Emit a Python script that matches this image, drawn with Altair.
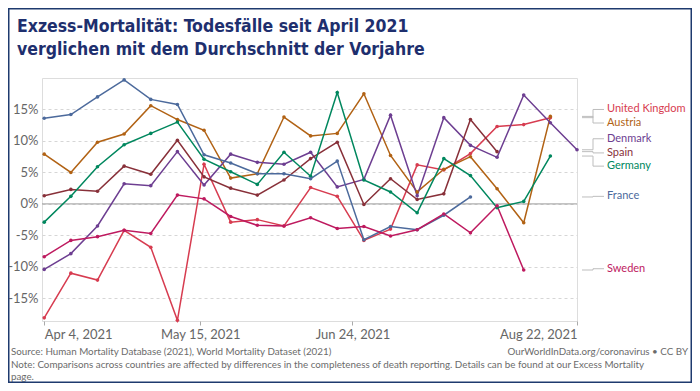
import altair as alt
import pandas as pd

# ---------------- data ----------------
countries = ["United Kingdom", "Austria", "Denmark", "Spain", "Germany", "France", "Sweden"]
colors = ["#d73c50", "#b16214", "#6d3e91", "#883039", "#00875e", "#4c6a9c", "#be1a5f"]

first_week = "2021-04-04"  # weekly series, one point per week

uk = [-18.1, -11.0, -12.1, -4.2, -6.9, -18.5, 6.3, -2.9, -2.5, -3.5, 2.6, 1.2, -5.8, -4.0, 6.2, 5.4, 8.0, 12.3, 12.6, 13.7]
austria = [7.9, 5.0, 9.8, 11.1, 15.6, 13.4, 11.7, 4.1, 4.8, 13.8, 10.8, 11.2, 17.5, 7.7, 1.9, 5.5, 7.5, 2.4, -3.0, 13.9]
denmark = [-10.4, -7.9, -3.5, 3.2, 2.9, 8.3, 3.0, 7.9, 6.6, 6.3, 8.2, 2.7, 3.9, 14.1, 1.3, 13.7, 9.3, 7.4, 17.3, 12.9, 8.6]
spain = [1.3, 2.3, 2.0, 6.0, 4.7, 10.1, 4.3, 2.5, 1.4, 3.8, 7.2, 9.8, -0.1, 4.0, 0.7, 1.6, 13.4, 8.3]
germany = [-2.9, 1.2, 5.9, 9.4, 11.2, 13.0, 7.1, 5.1, 3.1, 8.2, 4.4, 17.7, 3.8, 1.9, -1.4, 7.2, 4.5, -0.6, 0.4, 7.6]
france = [13.6, 14.2, 17.0, 19.7, 16.6, 15.8, 7.8, 6.5, 4.8, 4.8, 4.0, 6.8, -5.7, -3.6, -4.1, -1.8, 1.1]
sweden = [-8.4, -5.8, -5.2, -4.2, -4.7, 1.4, 0.8, -2.0, -3.4, -3.5, -2.2, -3.9, -3.6, -5.1, -4.1, -1.6, -4.6, -0.3, -10.5]

series = {
    "United Kingdom": uk, "Austria": austria, "Denmark": denmark, "Spain": spain,
    "Germany": germany, "France": france, "Sweden": sweden,
}

y_ticks = [-15, -10, -5, 0, 5, 10, 15]

title_lines = ["Exzess-Mortalität: Todesfälle seit April 2021",
               "verglichen mit dem Durchschnitt der Vorjahre"]
source_text = "Source: Human Mortality Database (2021), World Mortality Dataset (2021)"
note_line1 = "Note: Comparisons across countries are affected by differences in the completeness of death reporting. Details can be found at our Excess Mortality"
note_line2 = "page."
credit_text = "OurWorldInData.org/coronavirus • CC BY"

# label placement (layout, in value units of the y axis)
label_y = {"United Kingdom": 15.0, "Austria": 12.85, "Denmark": 10.35, "Spain": 8.1,
           "Germany": 6.0, "France": 1.2, "Sweden": -10.3}

# ---------------- tables ----------------
start = pd.Timestamp(first_week)
rows = []
for c, vals in series.items():
    for k, v in enumerate(vals):
        rows.append({"country": c,
                     "date": (start + pd.Timedelta(weeks=k)).strftime("%Y-%m-%d"),
                     "value": v})
df = pd.DataFrame(rows)

lab = pd.DataFrame({
    "country": countries,
    "end": [series[c][-1] for c in countries],
    "laby": [label_y[c] for c in countries],
})

TW, TH = 684, 375          # whole svg
W, H = 535, 243            # plot area
PL, PT = 34, 70

color_scale = alt.Scale(domain=countries, range=colors)
x_scale = alt.Scale(type="utc",
                    domain=[alt.DateTime(year=2021, month=4, date=3, hours=10, utc=True),
                            alt.DateTime(year=2021, month=8, date=22, utc=True)])
y_scale = alt.Scale(domain=[-18.6, 20], nice=False, zero=False)

x_enc = alt.X("date:T", scale=x_scale,
              axis=alt.Axis(values=[alt.DateTime(year=2021, month=4, date=4, utc=True),
                                    alt.DateTime(year=2021, month=5, date=15, utc=True),
                                    alt.DateTime(year=2021, month=6, date=24, utc=True),
                                    alt.DateTime(year=2021, month=8, date=22, utc=True)],
                            format="%b %-d, %Y", labelFlush=5, domain=False, ticks=True,
                            tickColor="#aaa", tickSize=4, grid=False, labelFontSize=13,
                            labelColor="#666", title=None, labelPadding=3))
y_enc = alt.Y("value:Q", scale=y_scale,
              axis=alt.Axis(values=y_ticks, labelExpr="datum.value + '%'", domain=False,
                            ticks=False, grid=True, gridDash=[3, 3], gridColor="#d6d6d6",
                            labelColor="#666", labelFontSize=13, labelPadding=4, title=None))

zero = alt.Chart(pd.DataFrame({"z": [0]})).mark_rule(color="#9a9a9a", strokeWidth=1).encode(
    y=alt.Y("z:Q", scale=y_scale))

lines = alt.Chart(df).mark_line(strokeWidth=1.5).encode(
    x=x_enc, y=y_enc,
    color=alt.Color("country:N", scale=color_scale, legend=None),
    detail="country:N")

pts = alt.Chart(df).mark_circle(size=13, opacity=1).encode(
    x=alt.X("date:T", scale=x_scale), y=alt.Y("value:Q", scale=y_scale),
    color=alt.Color("country:N", scale=color_scale, legend=None))

cc = "#bdbdbd"
seg1 = alt.Chart(lab).mark_rule(color=cc, strokeWidth=1).encode(
    x=alt.value(540), x2=alt.value(551), y=alt.Y("end:Q", scale=y_scale))
seg2 = alt.Chart(lab).mark_rule(color=cc, strokeWidth=1).encode(
    x=alt.value(551), y=alt.Y("end:Q", scale=y_scale), y2="laby:Q")
seg3 = alt.Chart(lab).mark_rule(color=cc, strokeWidth=1).encode(
    x=alt.value(551), x2=alt.value(562), y=alt.Y("laby:Q", scale=y_scale))
labels = alt.Chart(lab).mark_text(align="left", baseline="middle", fontSize=11, font="Lato").encode(
    x=alt.value(565), y=alt.Y("laby:Q", scale=y_scale), text="country:N",
    color=alt.Color("country:N", scale=color_scale, legend=None))

def txt(s, x, y, **kw):
    return alt.Chart(pd.DataFrame({"t": [s]})).mark_text(**kw).encode(
        text="t:N", x=alt.value(x), y=alt.value(y))

title_font = "DejaVu Sans Condensed, DejaVu Sans, sans-serif"
t1 = txt(title_lines[0], 9 - PL, 24 - PT, align="left", baseline="alphabetic", font=title_font,
         fontSize=17.5, fontWeight="bold", color="#1e2f6e")
t2 = txt(title_lines[1], 9 - PL, 47 - PT, align="left", baseline="alphabetic", font=title_font,
         fontSize=17.5, fontWeight="bold", color="#1e2f6e")
fs = dict(baseline="alphabetic", font="Lato", fontSize=9.8, color="#6b6b6b")
f1 = txt(source_text, 3 - PL, 347 - PT, align="left", **fs)
f2 = txt(credit_text, 680 - PL, 347 - PT, align="right", **fs)
f3 = txt(note_line1, 3 - PL, 359.5 - PT, align="left", **fs)
f4 = txt(note_line2, 3 - PL, 372 - PT, align="left", **fs)

frame = alt.Chart(pd.DataFrame({"a": [0]})).mark_rect(fill=None, stroke="#1e3a6e", strokeWidth=1.5).encode(
    x=alt.value(0.75 - PL), x2=alt.value(TW - 0.75 - PL), y=alt.value(0.75 - PT), y2=alt.value(TH - 0.75 - PT))

chart = alt.layer(zero, lines, pts, seg1, seg2, seg3, labels, t1, t2, f1, f2, f3, f4, frame).properties(
    width=W, height=H,
    autosize=alt.AutoSizeParams(type="none"),
    padding={"left": PL, "top": PT, "right": TW - PL - W, "bottom": TH - PT - H},
).configure_view(stroke=None).configure(font="Lato", background="white")

chart.save("out.html", embed_options={"renderer": "svg", "actions": False})
